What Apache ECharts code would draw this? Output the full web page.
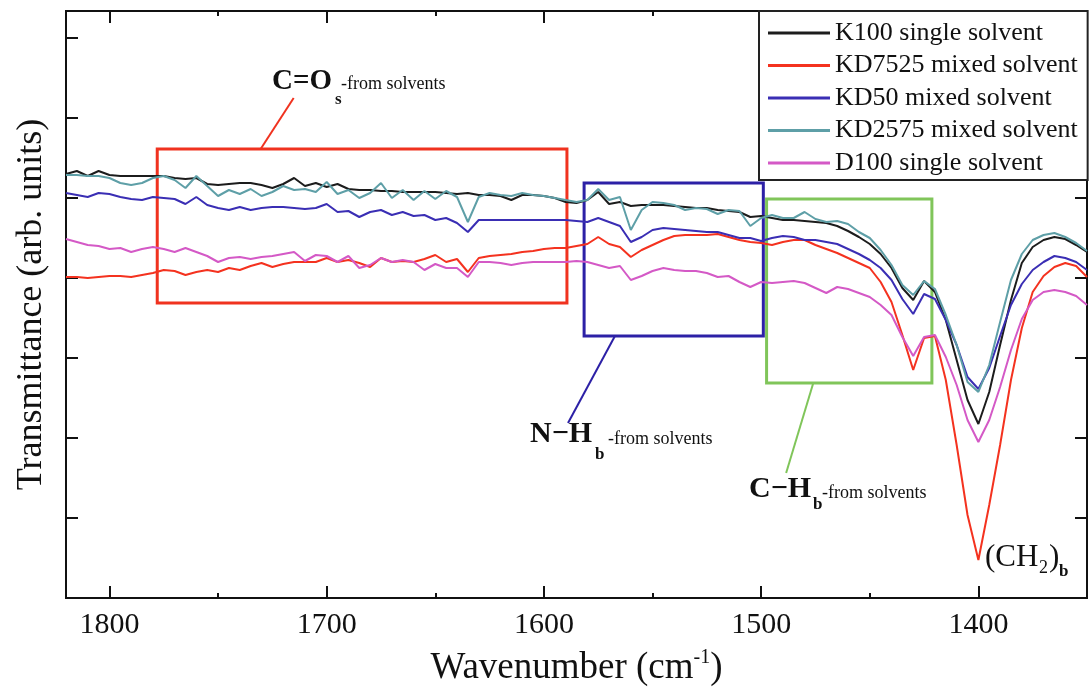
<!DOCTYPE html>
<html>
<head>
<meta charset="utf-8">
<title>FTIR transmittance</title>
<script src="https://cdn.jsdelivr.net/npm/echarts@6.0.0/dist/echarts.min.js"></script>
<style>
  html, body { margin: 0; padding: 0; background: #fff; }
  #chart { width: 1091px; height: 698px; }
</style>
</head>
<body>
<div id="chart"></div>
<script>
// wavenumber grid (cm-1), shared by all spectra
const wavenumber = [
  1820, 1815, 1810, 1805, 1800, 1795, 1790, 1785, 1780, 1775,
  1770, 1765, 1760, 1755, 1750, 1745, 1740, 1735, 1730, 1725,
  1720, 1715, 1710, 1705, 1700, 1695, 1690, 1685, 1680, 1675,
  1670, 1665, 1660, 1655, 1650, 1645, 1640, 1635, 1630, 1625,
  1620, 1615, 1610, 1605, 1600, 1595, 1590, 1585, 1580, 1575,
  1570, 1565, 1560, 1555, 1550, 1545, 1540, 1535, 1530, 1525,
  1520, 1515, 1510, 1505, 1500, 1495, 1490, 1485, 1480, 1475,
  1470, 1465, 1460, 1455, 1450, 1445, 1440, 1435, 1430, 1425,
  1420, 1415, 1410, 1405, 1400, 1395, 1390, 1385, 1380, 1375,
  1370, 1365, 1360, 1355, 1350
]

// transmittance, arb. units
const k100 = [
  424, 427, 422, 427, 423, 422, 422, 422, 422, 422,
  420, 419, 420, 414, 413, 414, 415, 415, 413, 410,
  414, 420, 412, 415, 411, 414, 409, 408, 408, 407,
  407, 406, 406, 406, 406, 405, 404, 405, 403, 403,
  402, 398, 403, 403, 402, 400, 396, 395, 398, 406,
  394, 396, 392, 393, 393, 393, 392, 391, 390, 390,
  388, 387, 386, 381, 382, 380, 378, 378, 377, 376,
  375, 372, 367, 361, 354, 344, 330, 310, 298, 317,
  306, 278, 238, 198, 174, 206, 253, 298, 335, 351,
  358, 361, 359, 353, 346
]
const kd7525 = [
  321, 321, 320, 321, 322, 322, 321, 323, 325, 328,
  327, 323, 326, 328, 326, 330, 328, 332, 335, 331,
  334, 336, 336, 336, 340, 336, 338, 335, 331, 340,
  336, 337, 336, 339, 343, 336, 339, 326, 340, 342,
  343, 344, 346, 347, 349, 350, 350, 352, 354, 361,
  354, 351, 341, 348, 353, 358, 362, 363, 363, 363,
  364, 361, 358, 356, 355, 353, 356, 358, 358, 353,
  349, 345, 340, 335, 330, 316, 296, 263, 228, 260,
  262, 218, 153, 83, 38, 93, 153, 218, 270, 306,
  322, 331, 335, 332, 321
]
const kd50 = [
  405, 403, 401, 405, 404, 401, 399, 398, 401, 400,
  399, 394, 401, 393, 390, 388, 391, 388, 390, 391,
  391, 390, 389, 390, 394, 386, 387, 381, 386, 388,
  383, 386, 382, 383, 378, 380, 375, 366, 378, 378,
  378, 378, 378, 378, 378, 378, 378, 377, 376, 380,
  376, 372, 356, 361, 368, 370, 369, 368, 367, 366,
  366, 363, 360, 360, 357, 360, 362, 361, 358, 358,
  356, 354, 349, 344, 338, 330, 318, 299, 284, 304,
  299, 278, 253, 221, 209, 230, 262, 293, 314, 328,
  336, 342, 340, 336, 328
]
const kd2575 = [
  423, 423, 422, 422, 420, 415, 413, 415, 420, 422,
  418, 410, 422, 412, 402, 408, 404, 409, 402, 406,
  412, 408, 409, 406, 416, 404, 408, 400, 405, 415,
  400, 408, 398, 407, 399, 407, 401, 376, 401, 405,
  403, 402, 405, 403, 402, 400, 398, 396, 398, 409,
  398, 401, 368, 388, 396, 395, 393, 388, 390, 389,
  384, 388, 387, 372, 380, 383, 380, 380, 386, 379,
  376, 377, 374, 366, 360, 348, 333, 313, 303, 317,
  309, 283, 253, 216, 206, 233, 276, 318, 344, 358,
  363, 365, 361, 355, 347
]
const d100 = [
  359, 356, 353, 352, 349, 350, 346, 349, 351, 349,
  346, 350, 346, 342, 336, 340, 341, 339, 341, 342,
  344, 346, 337, 343, 342, 336, 342, 330, 333, 340,
  336, 338, 336, 328, 334, 330, 330, 321, 336, 336,
  335, 333, 335, 336, 336, 336, 336, 337, 336, 333,
  330, 332, 318, 322, 327, 330, 328, 327, 327, 325,
  321, 322, 316, 311, 316, 315, 316, 317, 315, 310,
  305, 311, 309, 305, 301, 293, 283, 261, 242, 261,
  263, 241, 213, 178, 156, 178, 211, 248, 279, 298,
  306, 308, 306, 302, 293
]

const seriesNames = ['K100 single solvent', 'KD7525 mixed solvent', 'KD50 mixed solvent', 'KD2575 mixed solvent', 'D100 single solvent']
const seriesColors = ['#1c1c1c', '#f4321f', '#3a2eb4', '#5e9fa7', '#d459c6']
const seriesValues = [k100, kd7525, kd50, kd2575, d100]

const majorTicks = [1400, 1500, 1600, 1700, 1800]
const minorTicks = [1450, 1550, 1650, 1750]

// annotation boxes [x1, y1, x2, y2] and leader lines, in data units
const boxes = [
  { c: [1778, 449, 1589.4, 295], color: '#f0321f' },
  { c: [1581.5, 415, 1499, 262], color: '#2c20a6' },
  { c: [1497.5, 399, 1421.4, 215], color: '#80c55a' }
]
const leaders = [
  { c: [1730.4, 449, 1715.2, 500], color: '#f0321f' },
  { c: [1567.3, 262, 1588.9, 175], color: '#2c20a6' },
  { c: [1476, 215, 1488.5, 125], color: '#80c55a' }
]

const serif = 'Liberation Serif, Times New Roman, serif'

let chart = echarts.init(document.getElementById('chart'))

function pairs(vals) {
  return wavenumber.map((w, i) => [w, vals[i]])
}

let series = seriesNames.map((name, i) => ({
  name: name,
  type: 'line',
  data: pairs(seriesValues[i]),
  showSymbol: false,
  symbol: 'none',
  lineStyle: { width: 2, color: seriesColors[i] },
  itemStyle: { color: seriesColors[i] },
  z: 3
}))

// boxes + leader lines hang on the first series
series[0].markArea = {
  silent: true,
  data: boxes.map(b => [
    { coord: [b.c[0], b.c[1]], itemStyle: { color: 'rgba(0,0,0,0)', borderColor: b.color, borderWidth: 3 } },
    { coord: [b.c[2], b.c[3]] }
  ])
}
series[0].markLine = {
  silent: true,
  symbol: 'none',
  label: { show: false },
  data: leaders.map(l => [
    { coord: [l.c[0], l.c[1]], lineStyle: { color: l.color, width: 2, type: 'solid' } },
    { coord: [l.c[2], l.c[3]] }
  ])
}

function xAxisCfg(pos, ticks, len, withLabels) {
  return {
    type: 'value',
    position: pos,
    min: 1350,
    max: 1820,
    inverse: true,
    splitLine: { show: false },
    axisLine: { show: true, onZero: false, lineStyle: { color: '#111', width: 2 } },
    axisTick: { show: true, inside: true, length: len, customValues: ticks, lineStyle: { color: '#111', width: 2 } },
    axisLabel: withLabels ? {
      show: true, customValues: ticks, margin: 12,
      formatter: v => String(v),
      fontFamily: serif, fontSize: 30, color: '#111'
    } : { show: false }
  }
}

function yAxisCfg(pos) {
  return {
    type: 'value',
    position: pos,
    min: 0,
    max: 587,
    interval: 80,
    splitLine: { show: false },
    axisLine: { show: true, onZero: false, lineStyle: { color: '#111', width: 2 } },
    axisTick: { show: true, inside: true, length: 12, lineStyle: { color: '#111', width: 2 } },
    axisLabel: { show: false }
  }
}

let xBottom = xAxisCfg('bottom', majorTicks, 12, true)
xBottom.name = '{a|Wavenumber (cm}{s|-1}{a|)}'
xBottom.nameLocation = 'middle'
xBottom.nameGap = 50
xBottom.nameTextStyle = {
  rich: {
    a: { fontFamily: serif, fontSize: 37, color: '#111', lineHeight: 40 },
    s: { fontFamily: serif, fontSize: 20, color: '#111', verticalAlign: 'top', lineHeight: 20 }
  }
}

let yLeft = yAxisCfg('left')
yLeft.name = 'Transmittance (arb. units)'
yLeft.nameLocation = 'middle'
yLeft.nameGap = 16
yLeft.nameTextStyle = { fontFamily: serif, fontSize: 36, color: '#111' }

function txt(x, y, text, size, bold) {
  return {
    type: 'text',
    left: x,
    top: y - size * 0.6,
    z: 10,
    style: {
      text: text,
      fill: '#111',
      font: (bold ? 'bold ' : '') + size + 'px ' + serif
    }
  }
}

let option = {
  animation: false,
  backgroundColor: '#fff',
  grid: { left: 66, right: 4, top: 11, bottom: 100, containLabel: false },
  xAxis: [
    xBottom,
    xAxisCfg('bottom', minorTicks, 5, false),
    xAxisCfg('top', majorTicks, 12, false),
    xAxisCfg('top', minorTicks, 5, false)
  ],
  yAxis: [yLeft, yAxisCfg('right')],
  legend: {
    orient: 'vertical',
    left: 759,
    top: 11,
    data: seriesNames,
    icon: 'rect',
    itemWidth: 62,
    itemHeight: 3,
    itemGap: 6.5,
    padding: [9, 10, 4, 9],
    backgroundColor: '#fff',
    borderColor: '#222',
    borderWidth: 2,
    borderRadius: 0,
    textStyle: { fontFamily: serif, fontSize: 26, lineHeight: 26, color: '#111' }
  },
  graphic: [
    txt(272, 84, 'C=O', 29, true),
    txt(335, 101, 's', 17, true),
    txt(341, 86, '-from solvents', 18, false),

    txt(530, 437, 'N\u2212H', 30, true),
    txt(595, 456, 'b', 17, true),
    txt(608, 441, '-from solvents', 18, false),

    txt(749, 492, 'C\u2212H', 30, true),
    txt(813, 506, 'b', 17, true),
    txt(822, 495, '-from solvents', 18, false),

    txt(985, 561, '(CH', 31, false),
    txt(1039, 570, '2', 18, false),
    txt(1049, 561, ')', 31, false),
    txt(1059, 573, 'b', 17, true)
  ],
  series: series
}

chart.setOption(option)
</script>
</body>
</html>
